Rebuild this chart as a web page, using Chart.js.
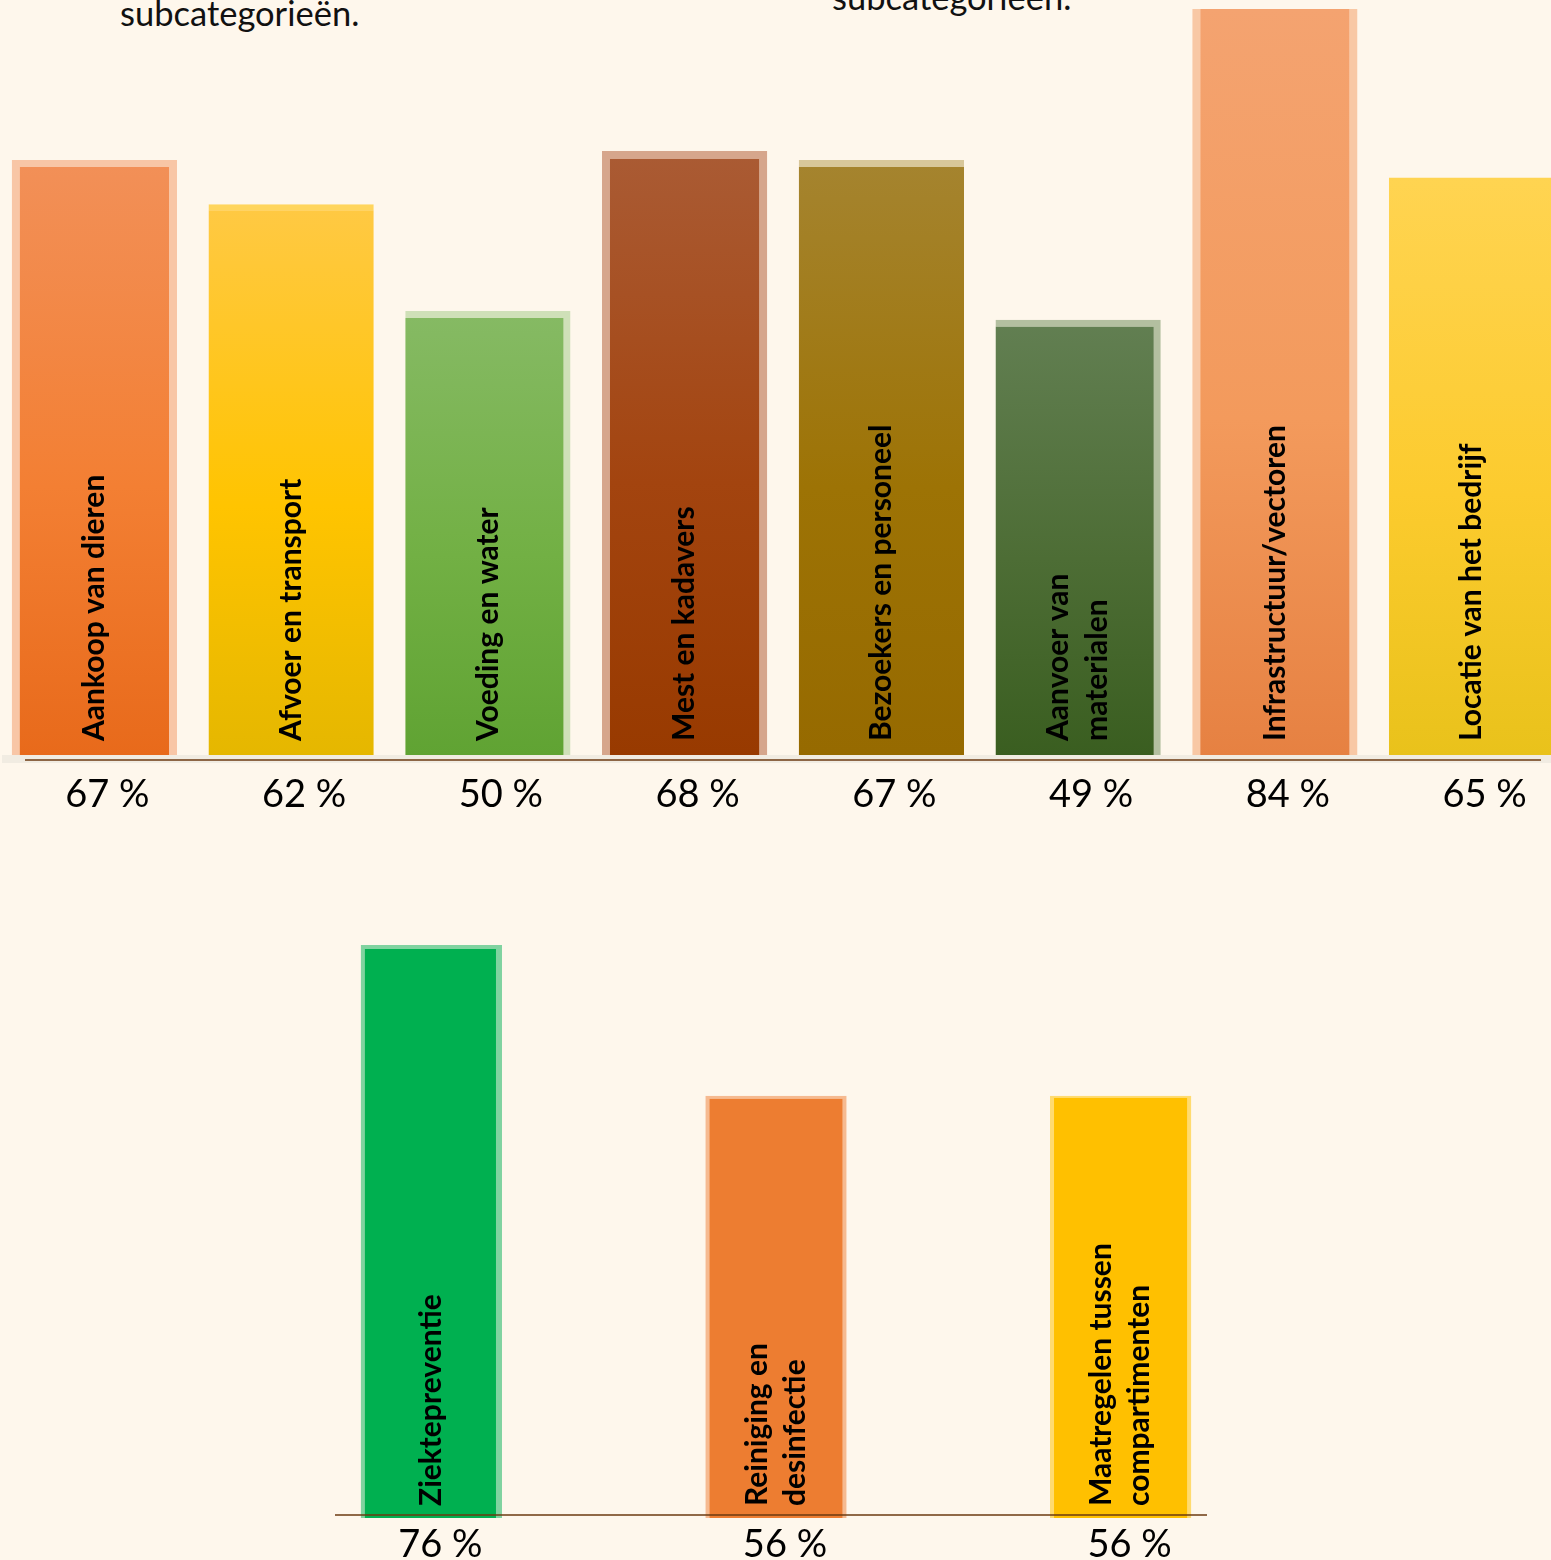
<!DOCTYPE html>
<html>
<head>
<meta charset="utf-8">
<script src="https://cdn.jsdelivr.net/npm/chart.js@4.4.1/dist/chart.umd.min.js"></script>
<style>
  html, body { margin:0; padding:0; background:#FEF7EC; width:1551px; height:1560px; overflow:hidden; position:relative; }
  .note { position:absolute; font-family: Lato, "Open Sans", sans-serif; font-size:34.5px; color:#111; white-space:nowrap; }
  #topWrap { position:absolute; left:-4px; top:0; width:1574px; height:830px; }
  #botWrap { position:absolute; left:259px; top:930px; width:1034px; height:630px; }
</style>
</head>
<body>
<div class="note" style="left:120px; top:-8px;">subcategorieën.</div>
<div class="note" style="left:832px; top:-24px;">subcategorieën.</div>
<div id="topWrap"><canvas id="top"></canvas></div>
<div id="botWrap"><canvas id="bot"></canvas></div>
<script>
// ---- data ----
const topCategories = [
  ["Aankoop van dieren"],
  ["Afvoer en transport"],
  ["Voeding en water"],
  ["Mest en kadavers"],
  ["Bezoekers en personeel"],
  ["Aanvoer van", "materialen"],
  ["Infrastructuur/vectoren"],
  ["Locatie van het bedrijf"]
];
const topValues = [67, 62, 50, 68, 67, 49, 84, 65];
const topValueLabels = ["67 %", "62 %", "50 %", "68 %", "67 %", "49 %", "84 %", "65 %"];

const botCategories = [
  ["Ziektepreventie"],
  ["Reiniging en", "desinfectie"],
  ["Maatregelen tussen", "compartimenten"]
];
const botValues = [76, 56, 56];
const botValueLabels = ["76 %", "56 %", "56 %"];

// ---- styles ----
const topGradients = [
  ["#F29058", "#F37F33", "#E86A1B"],
  ["#FFC944", "#FFC400", "#E5B700"],
  ["#86BA64", "#72B044", "#60A333"],
  ["#AA5B34", "#A3440F", "#983A00"],
  ["#A5842F", "#9D7305", "#966A00"],
  ["#627F52", "#4D6D35", "#3A5E20"],
  ["#F4A370", "#F39A5C", "#E68142"],
  ["#FFD451", "#FCCB2E", "#E9C21B"]
];
const topEdgeColors = ["#F8C6A6", "#FFD55C", "#CFE0B8", "#D6A68C", "#D8C79A", "#B3BFA0", "#F8C8A5", "#FFD451"];
const topEdges = [
  {left:8, right:8, top:7, bottom:0},
  {left:0, right:0, top:6, bottom:0},
  {left:0, right:7, top:7, bottom:0},
  {left:8, right:8, top:8, bottom:0},
  {left:0, right:0, top:7, bottom:0},
  {left:0, right:7, top:7, bottom:0},
  {left:8, right:8, top:0, bottom:0},
  {left:0, right:0, top:0, bottom:0}
];
const botGradients = [
  ["#00B050", "#00B050", "#00B050"],
  ["#ED7D31", "#ED7D31", "#ED7D31"],
  ["#FFC000", "#FFC000", "#FFC000"]
];
const botEdgeColors = ["#80D3A0", "#F6BA90", "#FFDB70"];
const botEdges = [
  {left:4, right:6, top:4, bottom:0},
  {left:4, right:4, top:3, bottom:0},
  {left:4, right:4, top:2, bottom:0}
];

function gradientFill(values, stops) {
  return (ctx) => {
    if (ctx.type !== 'data') return stops[0][0];
    const chart = ctx.chart;
    const y = chart.scales.y;
    if (!chart.chartArea || !y) return stops[ctx.dataIndex][0];
    const yTop = y.getPixelForValue(values[ctx.dataIndex]);
    const yBot = y.getPixelForValue(0);
    const g = chart.ctx.createLinearGradient(0, yTop, 0, yBot);
    const s = stops[ctx.dataIndex];
    g.addColorStop(0, s[0]);
    g.addColorStop(0.55, s[1]);
    g.addColorStop(1, s[2]);
    return g;
  };
}

const labelPlugin = {
  id: 'barTexts',
  beforeDatasetsDraw(chart, args, opts) {
    const c = chart.ctx;
    const base = chart.scales.y.getPixelForValue(0);
    if (opts.band) {
      c.save();
      c.fillStyle = opts.band.color;
      c.fillRect(opts.band.x1, base, opts.band.x2 - opts.band.x1, opts.band.h);
      c.restore();
    }
  },
  afterDatasetsDraw(chart, args, opts) {
    const c = chart.ctx;
    const meta = chart.getDatasetMeta(0);
    const base = chart.scales.y.getPixelForValue(0);
    const cats = opts.categories;
    c.save();
    c.strokeStyle = opts.lineColor;
    c.lineWidth = 1.6;
    c.beginPath();
    c.moveTo(opts.line.x1, base + opts.line.dy);
    c.lineTo(opts.line.x2, base + opts.line.dy);
    c.stroke();
    meta.data.forEach((bar, i) => {
      const lines = cats[i];
      c.save();
      c.translate(bar.x, base - opts.labelBottom);
      c.rotate(-Math.PI / 2);
      c.font = "bold " + opts.labelSize + "px Lato, 'Open Sans', sans-serif";
      c.fillStyle = "#000";
      c.textAlign = "left";
      c.textBaseline = "middle";
      const n = lines.length;
      lines.forEach((t, k) => {
        c.fillText(t, 0, (k - (n - 1) / 2) * opts.lineHeight);
      });
      c.restore();
      c.font = opts.valueSize + "px Lato, 'Open Sans', sans-serif";
      c.fillStyle = "#000";
      c.textAlign = "center";
      c.textBaseline = "middle";
      c.fillText(opts.valueLabels[i], bar.x + opts.valueDx, base + opts.valueDy);
    });
    c.restore();
  }
};

function makeChart(id, cats, values, valueLabels, grads, edgeColors, edges, yMax, barPct, padBottom, pOpts) {
  return new Chart(document.getElementById(id), {
    type: 'bar',
    data: {
      labels: cats.map(l => l.join(" ")),
      datasets: [{
        data: values,
        backgroundColor: gradientFill(values, grads),
        borderColor: edgeColors,
        borderWidth: (ctx) => edges[ctx.dataIndex] || 0,
        borderSkipped: 'start',
        barPercentage: barPct,
        categoryPercentage: 1.0
      }]
    },
    options: {
      responsive: true,
      maintainAspectRatio: false,
      animation: false,
      devicePixelRatio: 1,
      layout: { padding: { top: 0, bottom: padBottom, left: 0, right: 0 } },
      scales: {
        x: { display: false },
        y: { display: false, min: 0, max: yMax }
      },
      plugins: {
        legend: { display: false },
        tooltip: { enabled: false },
        barTexts: Object.assign({ categories: cats, valueLabels: valueLabels }, pOpts)
      }
    },
    plugins: [labelPlugin]
  });
}

makeChart('top', topCategories, topValues, topValueLabels, topGradients, topEdgeColors, topEdges,
  85, 0.84, 75, {
    labelSize: 30, lineHeight: 39, labelBottom: 14,
    valueSize: 38, valueDx: 13, valueDy: 40,
    lineColor: "#6B3A10", line: { x1: 29, x2: 1545, dy: 5 },
    band: { color: "#F1ECE2", x1: 6, x2: 1574, h: 8 }
  });

makeChart('bot', botCategories, botValues, botValueLabels, botGradients, botEdgeColors, botEdges,
  78, 0.41, 42, {
    labelSize: 30, lineHeight: 38, labelBottom: 12,
    valueSize: 38, valueDx: 9, valueDy: 27,
    lineColor: "#6B3A10", line: { x1: 76, x2: 948, dy: -3 },
    band: null
  });
</script>
</body>
</html>
